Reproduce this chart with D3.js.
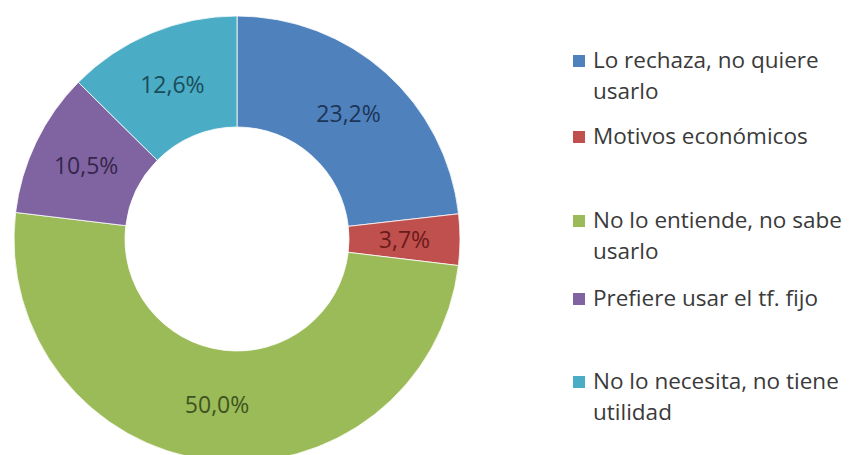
<!DOCTYPE html>
<html><head><meta charset="utf-8">
<script src="https://cdn.jsdelivr.net/npm/d3@7"></script>
<style>
html,body{margin:0;padding:0;background:#fff;}
svg{display:block;}
</style>
</head><body>
<svg id="chart" width="853" height="455"></svg>
<script>
const categories = ["Lo rechaza, no quiere usarlo","Motivos económicos","No lo entiende, no sabe usarlo","Prefiere usar el tf. fijo","No lo necesita, no tiene utilidad"];
const values = [23.2, 3.7, 50.0, 10.5, 12.6];
const valueLabels = ["23,2%","3,7%","50,0%","10,5%","12,6%"];
const legendLines = [["Lo rechaza, no quiere","usarlo"],["Motivos económicos"],["No lo entiende, no sabe","usarlo"],["Prefiere usar el tf. fijo"],["No lo necesita, no tiene","utilidad"]];
const colors = ["#4F81BD","#C0504D","#9BBB59","#8064A2","#4BACC6"];
const labelColors = ["#1c3557","#6a1b1a","#3e5320","#35264a","#1a4c5a"];

const svg = d3.select("#chart");
const cx = 237, cy = 239, R = 223, r = 112;
const g = svg.append("g").attr("transform",`translate(${cx},${cy})`);
const pie = d3.pie().sort(null).value(d=>d);
const arcs = pie(values);
const arc = d3.arc().innerRadius(r).outerRadius(R);
g.selectAll("path").data(arcs).join("path")
  .attr("d",arc).attr("fill",(d,i)=>colors[i])
  .attr("stroke","#fff").attr("stroke-width",0.8);
g.selectAll("text").data(arcs).join("text")
  .attr("transform",d=>`translate(${arc.centroid(d)})`)
  .attr("text-anchor","middle").attr("dy","0.35em")
  .attr("font-family","'Open Sans', sans-serif")
  .attr("font-size",23)
  .attr("fill",(d,i)=>labelColors[i])
  .text((d,i)=>valueLabels[i]);

const legendY = [68,144,228,306,389];
const lg = svg.append("g");
categories.forEach((c,i)=>{
  const y = legendY[i];
  lg.append("rect").attr("x",573).attr("y",y-13).attr("width",12).attr("height",12).attr("fill",colors[i]);
  const t = lg.append("text").attr("x",593).attr("y",y)
    .attr("font-family","'Open Sans', sans-serif").attr("font-size",22.5).attr("fill","#3a3a3a");
  legendLines[i].forEach((ln,j)=>{
    t.append("tspan").attr("x",593).attr("y",y+j*31).text(ln);
  });
});
</script>
</body></html>
